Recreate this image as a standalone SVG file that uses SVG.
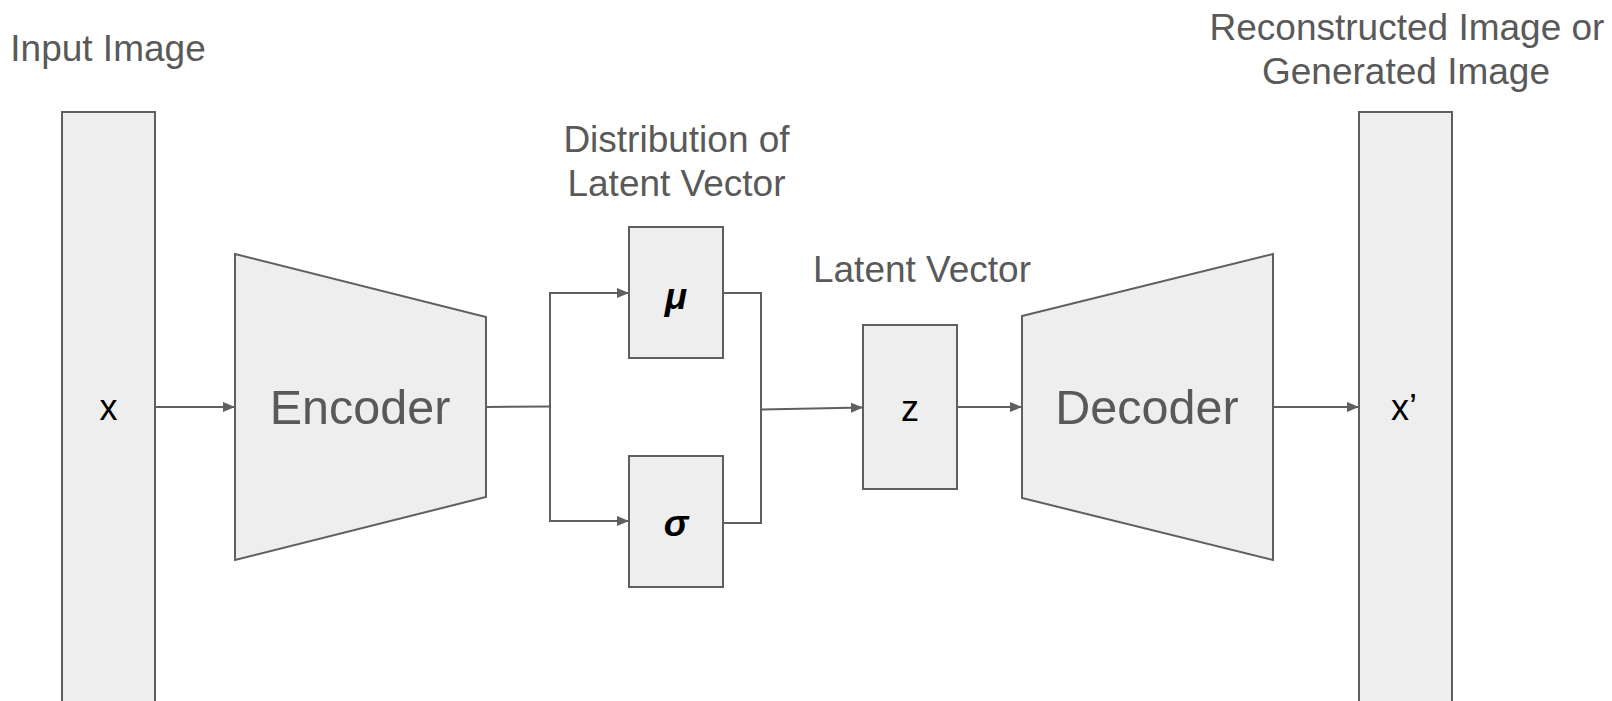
<svg xmlns="http://www.w3.org/2000/svg" width="1612" height="701" viewBox="0 0 1612 701">
<style>
.shape{fill:#eeeeee;stroke:#5f5f5f;stroke-width:2}
.lbl{font-family:"Liberation Sans",Arial,sans-serif;font-size:37px;fill:#595959;text-anchor:middle}
.big{font-family:"Liberation Sans",Arial,sans-serif;font-size:48.5px;fill:#595959;text-anchor:middle}
.var{font-family:"Liberation Sans",Arial,sans-serif;font-size:36px;fill:#000000;text-anchor:middle}
.greek{font-family:"Liberation Sans",Arial,sans-serif;font-size:37px;font-weight:bold;font-style:italic;fill:#000000;text-anchor:middle}
.conn{fill:none;stroke:#5f5f5f;stroke-width:2}
</style>
<defs>
<marker id="arr" markerUnits="userSpaceOnUse" markerWidth="13" markerHeight="10" refX="12" refY="5" orient="auto">
<path d="M0,0 L12,5 L0,10 Z" fill="#5f5f5f"/>
</marker>
</defs>
<rect width="1612" height="701" fill="#ffffff"/>
<g id="connectors">
<line class="conn" x1="155" y1="407" x2="235" y2="407" marker-end="url(#arr)"/>
<polyline class="conn" points="486,407 550,406.5"/>
<polyline class="conn" points="629,293 550,293 550,521 629,521"/>
<line class="conn" x1="550" y1="293" x2="629" y2="293" marker-end="url(#arr)"/>
<line class="conn" x1="550" y1="521" x2="629" y2="521" marker-end="url(#arr)"/>
<polyline class="conn" points="723,293 761,293 761,523 723,523"/>
<line class="conn" x1="761" y1="409.5" x2="863" y2="407.5" marker-end="url(#arr)"/>
<line class="conn" x1="957" y1="407" x2="1022" y2="407" marker-end="url(#arr)"/>
<line class="conn" x1="1273" y1="407" x2="1359" y2="407" marker-end="url(#arr)"/>
</g>
<g id="input">
<rect class="shape" x="62" y="112" width="93" height="600"/>
<text class="var" x="108.5" y="420">x</text>
<text class="lbl" x="108" y="61">Input Image</text>
</g>
<g id="encoder">
<polygon class="shape" points="235,254 486,317 486,497 235,560"/>
<text class="big" x="360" y="424">Encoder</text>
</g>
<g id="mu">
<rect class="shape" x="629" y="227" width="94" height="131"/>
<text class="greek" x="676" y="309">μ</text>
</g>
<g id="sigma">
<rect class="shape" x="629" y="456" width="94" height="131"/>
<text class="greek" x="676" y="536">σ</text>
</g>
<g id="dist-label">
<text class="lbl" x="676.5" y="152">Distribution of</text>
<text class="lbl" x="676.5" y="196">Latent Vector</text>
</g>
<g id="z">
<rect class="shape" x="863" y="325" width="94" height="164"/>
<text class="var" x="910" y="421">z</text>
<text class="lbl" x="922" y="282">Latent Vector</text>
</g>
<g id="decoder">
<polygon class="shape" points="1022,316 1273,254 1273,560 1022,498"/>
<text class="big" x="1147" y="424">Decoder</text>
</g>
<g id="output">
<rect class="shape" x="1359" y="112" width="93" height="600"/>
<text class="var" x="1404" y="420">x’</text>
<text class="lbl" x="1407" y="40">Reconstructed Image or</text>
<text class="lbl" x="1406" y="84">Generated Image</text>
</g>
</svg>
